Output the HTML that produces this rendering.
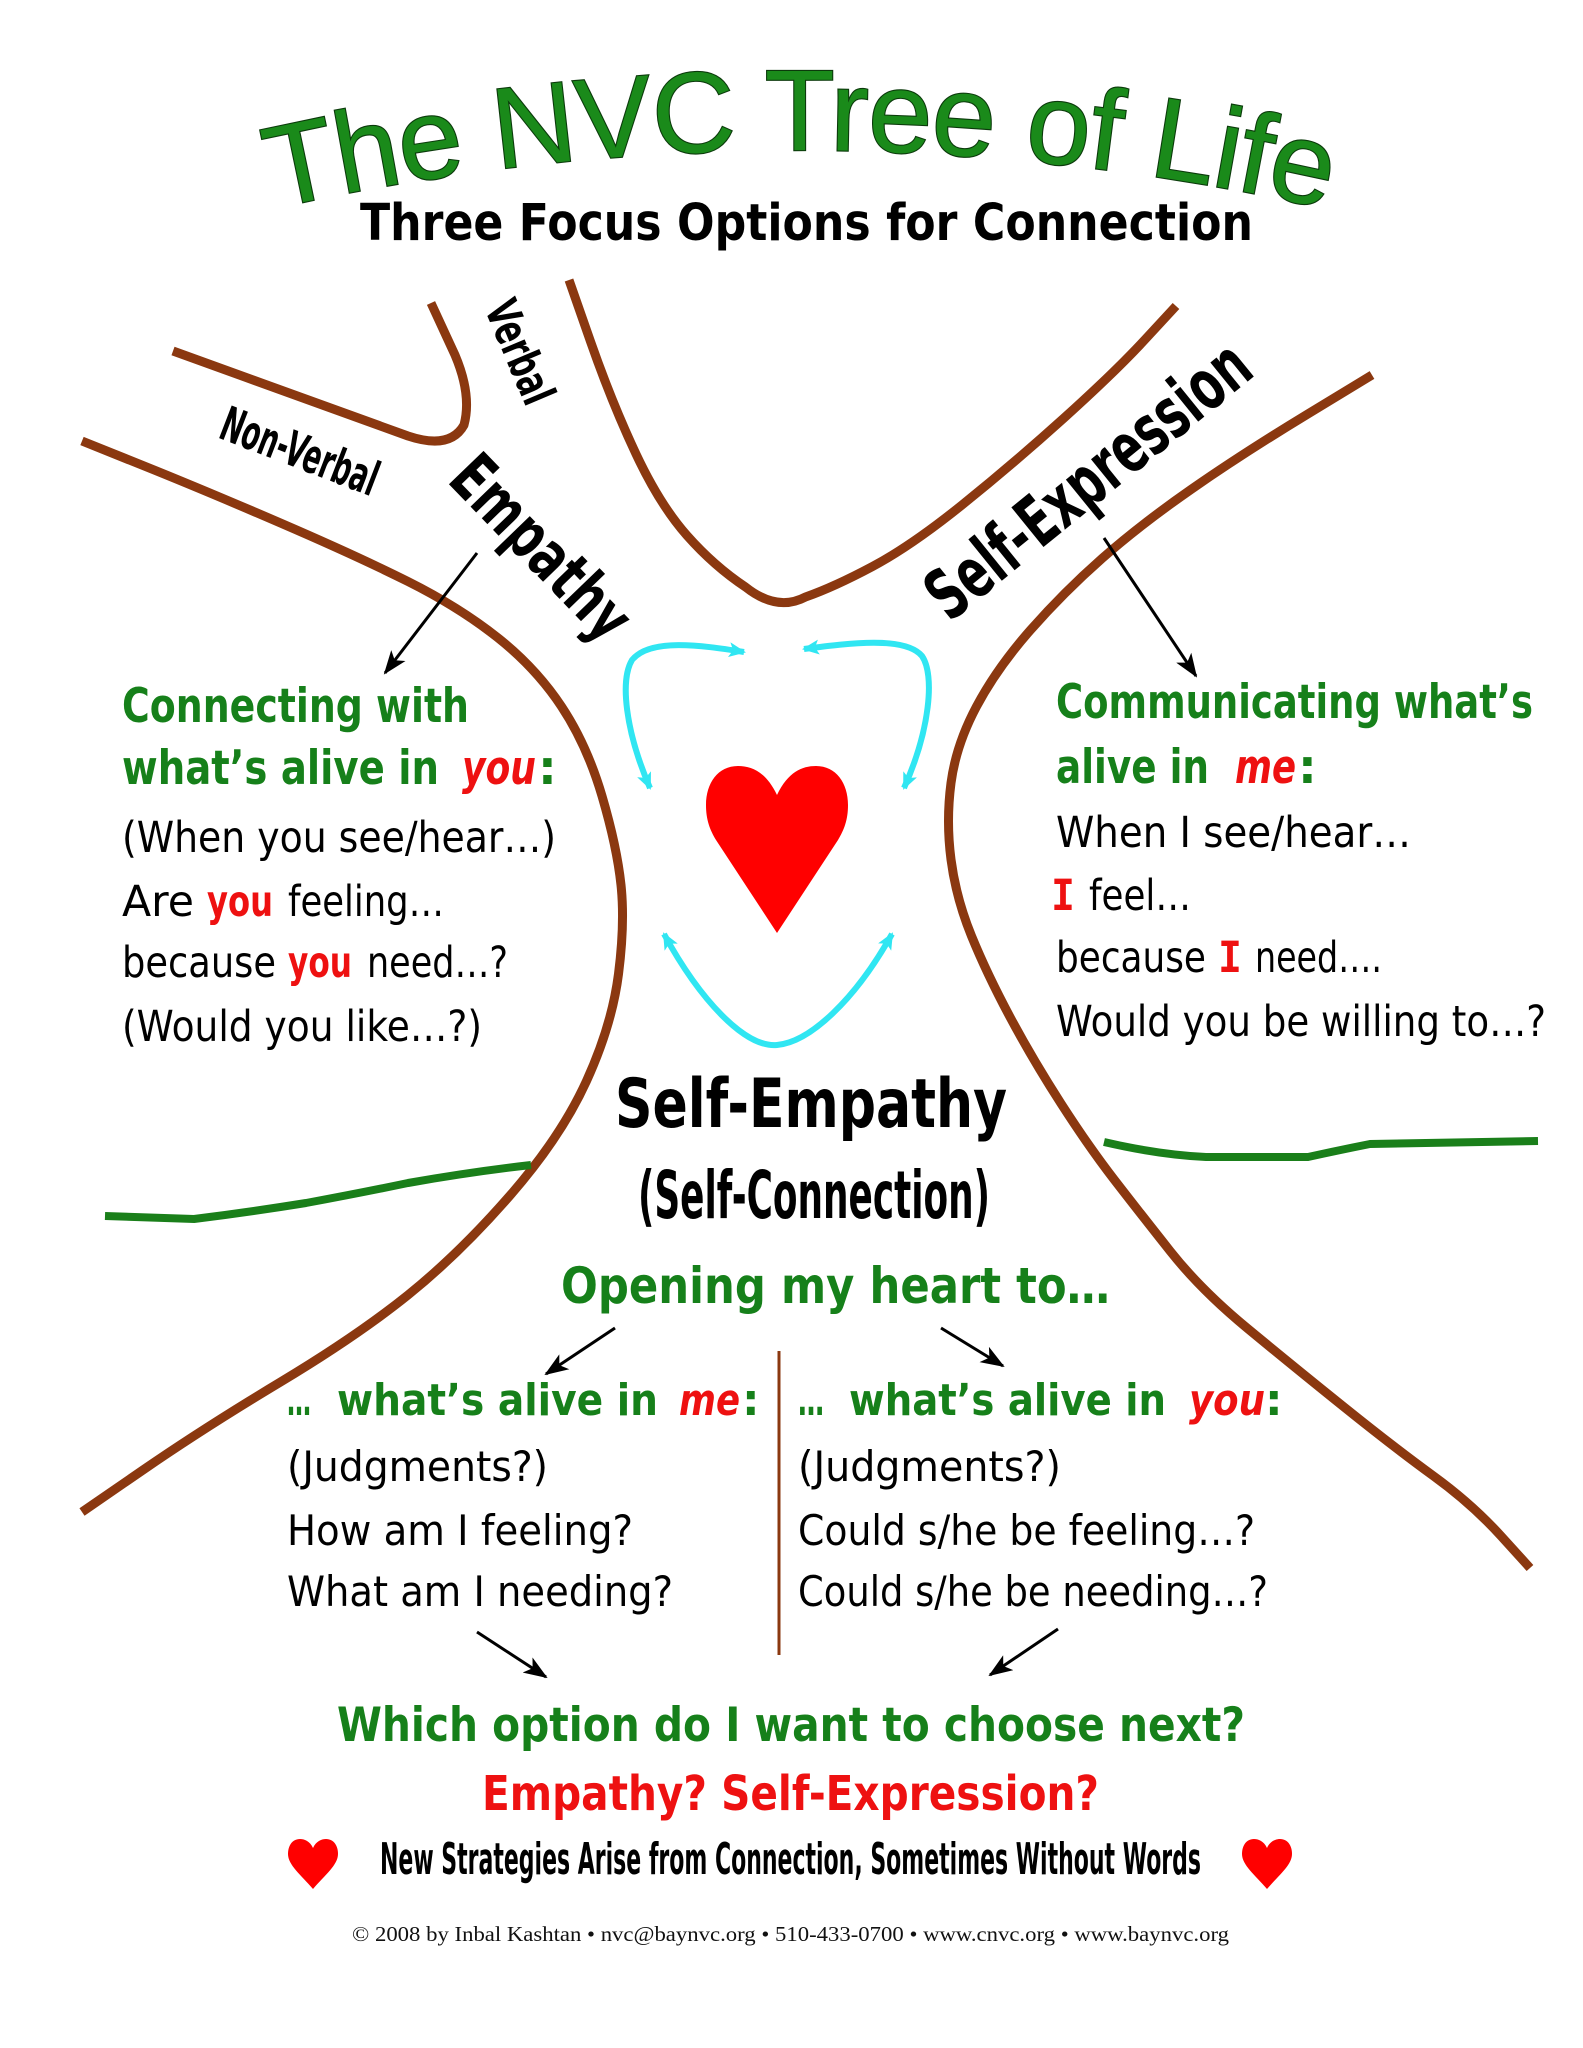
<!DOCTYPE html>
<html>
<head>
<meta charset="utf-8">
<style>
  html, body { margin:0; padding:0; background:#ffffff; }
  svg { display:block; }
  .cs  { font-family: "DejaVu Sans", "Liberation Sans", sans-serif; }
  .mono { font-family: "DejaVu Sans Mono", "Liberation Mono", monospace; }
  .b   { font-weight: bold; }
  .g   { fill:#16801a; }
  .r   { fill:#ee1111; }
  .k   { fill:#000000; }
  .it  { font-style: italic; }
</style>
</head>
<body>
<svg xmlns="http://www.w3.org/2000/svg" width="1583" height="2048" viewBox="0 0 1583 2048">
  <defs>
    <marker id="ah" markerUnits="userSpaceOnUse" markerWidth="24" markerHeight="18" viewBox="0 0 24 18" refX="22" refY="9" orient="auto">
      <path d="M0,0 L24,9 L0,18 L6,9 Z" fill="#000"/>
    </marker>
    <marker id="ch" markerUnits="userSpaceOnUse" markerWidth="17" markerHeight="15" viewBox="0 0 17 15" refX="15" refY="7.5" orient="auto-start-reverse">
      <path d="M0,0 L17,7.5 L0,15 L4,7.5 Z" fill="#30e6f2"/>
    </marker>
    <path id="arc" d="M250,214 A2400,2400 0 0 1 1350,214"/>
  </defs>

  <rect x="0" y="0" width="1583" height="2048" fill="#ffffff"/>

  <!-- Title -->
  <text font-family="Liberation Sans, Arial, sans-serif" font-size="115" letter-spacing="-1" fill="#1a8a1a" stroke="#0b3a0b" stroke-width="2.2" paint-order="stroke" >
    <textPath href="#arc" startOffset="50%" text-anchor="middle">The NVC Tree of Life</textPath>
  </text>
  <text class="cs b k" x="360" y="240" font-size="51" textLength="893" lengthAdjust="spacingAndGlyphs">Three Focus Options for Connection</text>

  <!-- Brown tree lines -->
  <g fill="none" stroke="#8b3810" stroke-width="9" stroke-linejoin="round">
    <path d="M82,441 L143,465.5 Q204,490 280.5,523 Q357,556 408,581.5 Q459,607 497.5,637.5 Q536,668 561.5,706.5 Q587,745 602,796 Q617,847 621,885 Q625,923 618.5,974 Q612,1025 586.5,1081 Q561,1137 510,1195.5 Q459,1254 408,1295 Q357,1336 280.5,1382 Q204,1428 143,1470 L82,1512"/>
    <path d="M1372,375 L1307,414.5 Q1242,454 1191,489.5 Q1140,525 1102,558.5 Q1064,592 1030.5,630 Q997,668 976.5,706.5 Q956,745 951,783 Q946,821 951,859.5 Q956,898 971.5,936 Q987,974 1010,1017 Q1033,1060 1061,1103.5 Q1089,1147 1114.5,1180 Q1140,1213 1170.5,1251.5 Q1201,1290 1247,1328 Q1293,1366 1344,1407 Q1395,1448 1433.5,1476 Q1472,1504 1501,1536 L1530,1568"/>
    <path d="M173,351 L408,436 Q450,450 464,425 Q472,395 455,355 L431,303"/>
    <path d="M569,280 L590.5,341.5 Q612,403 636,454 Q660,505 687,535.5 Q714,566 745.5,587 Q777,612 805.5,597 Q834,587 872.5,566.5 Q911,546 962,505 Q1013,464 1064,418 Q1115,372 1145.5,339 L1176,306"/>
  </g>
  <!-- thin divider -->
  <line x1="779" y1="1351" x2="779" y2="1655" stroke="#8b3810" stroke-width="3"/>

  <!-- Green ground lines -->
  <g fill="none" stroke="#1a7f1a" stroke-width="8" stroke-linecap="butt">
    <path d="M105,1216 L194,1219 Q250,1212 306,1203 Q360,1193 408,1183 Q470,1172 531,1165"/>
    <path d="M1104,1142 Q1160,1155 1206,1157 L1308,1157 Q1340,1150 1370,1144 L1538,1141"/>
  </g>

  <!-- Rotated labels -->
  <g transform="translate(520,352) rotate(67)">
    <text class="cs b k" x="0" y="16" font-size="46" text-anchor="middle" textLength="108" lengthAdjust="spacingAndGlyphs">Verbal</text>
  </g>
  <g transform="translate(300,451) rotate(21)">
    <text class="cs b k" x="0" y="17" font-size="48" text-anchor="middle" textLength="165" lengthAdjust="spacingAndGlyphs">Non-Verbal</text>
  </g>
  <g transform="translate(541,548) rotate(46)">
    <text class="cs b k" x="0" y="22" font-size="66" text-anchor="middle" textLength="228" lengthAdjust="spacingAndGlyphs">Empathy</text>
  </g>
  <g transform="translate(1088,480) rotate(-39)">
    <text class="cs b k" x="0" y="24" font-size="70" text-anchor="middle" textLength="395" lengthAdjust="spacingAndGlyphs">Self-Expression</text>
  </g>

  <!-- Black arrows -->
  <g stroke="#000" stroke-width="3" fill="none" marker-end="url(#ah)">
    <line x1="477" y1="553" x2="385" y2="673"/>
    <line x1="1104" y1="538" x2="1196" y2="676"/>
    <line x1="615" y1="1328" x2="546" y2="1374"/>
    <line x1="941" y1="1328" x2="1003" y2="1366"/>
    <line x1="477" y1="1632" x2="546" y2="1677"/>
    <line x1="1058" y1="1629" x2="990" y2="1675"/>
  </g>

  <!-- Cyan arrows -->
  <g stroke="#30e6f2" stroke-width="6" fill="none" marker-start="url(#ch)" marker-end="url(#ch)">
    <path d="M744,652 C700,645 650,638 632,660 C620,680 625,730 650,788"/>
    <path d="M804,649 C850,643 905,636 922,656 C935,675 930,730 904,788"/>
    <path d="M664,934 C700,1000 745,1048 777,1045 C810,1042 855,1000 892,934"/>
  </g>

  <!-- Big heart -->
  <path d="M777,795 C766,772 752,766 738,766 C718,766 706,783 706,805 C706,820 710,830 716,840 L777,933 L838,840 C844,830 848,820 848,805 C848,783 836,766 816,766 C802,766 788,772 777,795 Z" fill="#ff0000"/>

  <!-- Left block -->
  <text class="cs b g" x="122" y="722" font-size="47" textLength="347" lengthAdjust="spacingAndGlyphs">Connecting with</text>
  <text class="cs b g" x="122" y="784" font-size="47" textLength="317" lengthAdjust="spacingAndGlyphs">what’s alive in</text>
  <text class="cs b r it" x="462" y="784" font-size="47" textLength="74" lengthAdjust="spacingAndGlyphs">you</text>
  <text class="cs b g" x="538" y="784" font-size="47">:</text>
  <text class="cs k" x="122" y="852" font-size="43" textLength="434" lengthAdjust="spacingAndGlyphs">(When you see/hear…)</text>
  <text class="cs k" x="122" y="916" font-size="43" textLength="72" lengthAdjust="spacingAndGlyphs">Are</text>
  <text class="cs b r" x="207" y="916" font-size="43" textLength="66" lengthAdjust="spacingAndGlyphs">you</text>
  <text class="cs k" x="288" y="916" font-size="43" textLength="156" lengthAdjust="spacingAndGlyphs">feeling…</text>
  <text class="cs k" x="122" y="977" font-size="43" textLength="154" lengthAdjust="spacingAndGlyphs">because</text>
  <text class="cs b r" x="288" y="977" font-size="43" textLength="64" lengthAdjust="spacingAndGlyphs">you</text>
  <text class="cs k" x="367" y="977" font-size="43" textLength="141" lengthAdjust="spacingAndGlyphs">need…?</text>
  <text class="cs k" x="122" y="1041" font-size="43" textLength="360" lengthAdjust="spacingAndGlyphs">(Would you like…?)</text>

  <!-- Right block -->
  <text class="cs b g" x="1056" y="718" font-size="47" textLength="477" lengthAdjust="spacingAndGlyphs">Communicating what’s</text>
  <text class="cs b g" x="1056" y="783" font-size="47" textLength="153" lengthAdjust="spacingAndGlyphs">alive in</text>
  <text class="cs b r it" x="1235" y="783" font-size="47" textLength="61" lengthAdjust="spacingAndGlyphs">me</text>
  <text class="cs b g" x="1298" y="783" font-size="47">:</text>
  <text class="cs k" x="1056" y="847" font-size="43" textLength="355" lengthAdjust="spacingAndGlyphs">When I see/hear…</text>
  <text class="mono b r" x="1051" y="910" font-size="43" textLength="24" lengthAdjust="spacingAndGlyphs">I</text>
  <text class="cs k" x="1089" y="910" font-size="43" textLength="102" lengthAdjust="spacingAndGlyphs">feel…</text>
  <text class="cs k" x="1056" y="972" font-size="43" textLength="150" lengthAdjust="spacingAndGlyphs">because</text>
  <text class="mono b r" x="1218" y="972" font-size="43" textLength="24" lengthAdjust="spacingAndGlyphs">I</text>
  <text class="cs k" x="1255" y="972" font-size="43" textLength="127" lengthAdjust="spacingAndGlyphs">need….</text>
  <text class="cs k" x="1056" y="1036" font-size="43" textLength="490" lengthAdjust="spacingAndGlyphs">Would you be willing to…?</text>

  <!-- Center -->
  <text class="cs b k" x="615" y="1127" font-size="68" textLength="392" lengthAdjust="spacingAndGlyphs">Self-Empathy</text>
  <text class="cs b k" x="638" y="1218" font-size="66" textLength="352" lengthAdjust="spacingAndGlyphs">(Self-Connection)</text>
  <text class="cs b g" x="561" y="1303" font-size="50" textLength="549" lengthAdjust="spacingAndGlyphs">Opening my heart to…</text>

  <!-- Lower left -->
  <text class="cs b g" x="287" y="1415" font-size="44" textLength="24" lengthAdjust="spacingAndGlyphs">…</text>
  <text class="cs b g" x="337" y="1415" font-size="44" textLength="321" lengthAdjust="spacingAndGlyphs">what’s alive in</text>
  <text class="cs b r it" x="679" y="1415" font-size="44" textLength="61" lengthAdjust="spacingAndGlyphs">me</text>
  <text class="cs b g" x="742" y="1415" font-size="44">:</text>
  <text class="cs k" x="287" y="1481" font-size="42" textLength="261" lengthAdjust="spacingAndGlyphs">(Judgments?)</text>
  <text class="cs k" x="287" y="1545" font-size="42" textLength="346" lengthAdjust="spacingAndGlyphs">How am I feeling?</text>
  <text class="cs k" x="287" y="1606" font-size="42" textLength="386" lengthAdjust="spacingAndGlyphs">What am I needing?</text>

  <!-- Lower right -->
  <text class="cs b g" x="798" y="1415" font-size="44" textLength="26" lengthAdjust="spacingAndGlyphs">…</text>
  <text class="cs b g" x="849" y="1415" font-size="44" textLength="317" lengthAdjust="spacingAndGlyphs">what’s alive in</text>
  <text class="cs b r it" x="1189" y="1415" font-size="44" textLength="76" lengthAdjust="spacingAndGlyphs">you</text>
  <text class="cs b g" x="1265" y="1415" font-size="44">:</text>
  <text class="cs k" x="798" y="1481" font-size="42" textLength="263" lengthAdjust="spacingAndGlyphs">(Judgments?)</text>
  <text class="cs k" x="798" y="1545" font-size="42" textLength="457" lengthAdjust="spacingAndGlyphs">Could s/he be feeling…?</text>
  <text class="cs k" x="798" y="1606" font-size="42" textLength="470" lengthAdjust="spacingAndGlyphs">Could s/he be needing…?</text>

  <!-- Bottom -->
  <text class="cs b g" x="337" y="1741" font-size="47" textLength="908" lengthAdjust="spacingAndGlyphs">Which option do I want to choose next?</text>
  <text class="cs b r" x="482" y="1810" font-size="48" textLength="617" lengthAdjust="spacingAndGlyphs">Empathy? Self-Expression?</text>

  <path d="M313,1848 C310,1841 304,1839 300,1839 C292,1839 288,1846 288,1854 C288,1865 301,1875 313,1889 C325,1875 338,1865 338,1854 C338,1846 334,1839 326,1839 C322,1839 316,1841 313,1848 Z" fill="#ff0000"/>
  <path d="M1267,1848 C1264,1841 1258,1839 1254,1839 C1246,1839 1242,1846 1242,1854 C1242,1865 1255,1875 1267,1889 C1279,1875 1292,1865 1292,1854 C1292,1846 1288,1839 1280,1839 C1276,1839 1270,1841 1267,1848 Z" fill="#ff0000"/>

  <text class="cs b k" x="380" y="1874" font-size="44" textLength="821" lengthAdjust="spacingAndGlyphs">New Strategies Arise from Connection, Sometimes Without Words</text>

  <text x="352" y="1941" font-family="Liberation Serif, serif" font-size="21" fill="#111" textLength="877" lengthAdjust="spacingAndGlyphs">© 2008 by Inbal Kashtan • nvc@baynvc.org • 510-433-0700 • www.cnvc.org • www.baynvc.org</text>
</svg>
</body>
</html>
